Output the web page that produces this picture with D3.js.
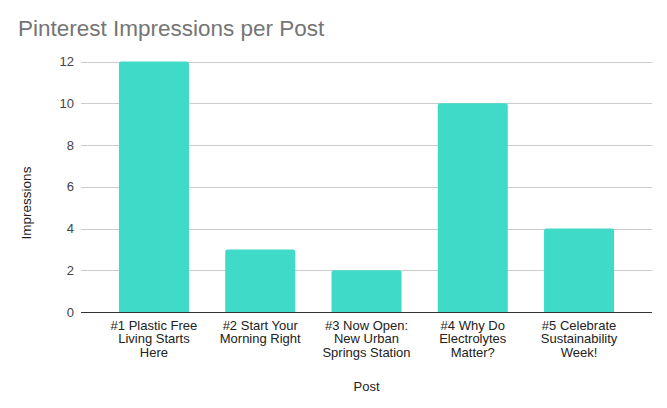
<!DOCTYPE html>
<html>
<head>
<meta charset="utf-8">
<script src="https://cdn.jsdelivr.net/npm/d3@7"></script>
<style>
  body { margin: 0; background: #fff; }
  svg { display: block; font-family: "Liberation Sans", Arial, sans-serif; }
</style>
</head>
<body>
<svg id="chart" width="667" height="408"></svg>
<script>
const title = "Pinterest Impressions per Post";
const categories = [
  "#1 Plastic Free\nLiving Starts\nHere",
  "#2 Start Your\nMorning Right",
  "#3 Now Open:\nNew Urban\nSprings Station",
  "#4 Why Do\nElectrolytes\nMatter?",
  "#5 Celebrate\nSustainability\nWeek!"
];
const impressions = [12, 3, 2, 10, 4];
const yTicks = [0, 2, 4, 6, 8, 10, 12];
const xTitle = "Post";
const yTitle = "Impressions";

const svg = d3.select("#chart");
const pLeft = 81, pRight = 652, pTop = 61.5, pBottom = 312;

const x = d3.scaleBand().domain(categories).range([pLeft, pRight])
  .paddingInner(0.341).paddingOuter(0.357);
const y = d3.scaleLinear().domain([0, 12]).range([pBottom, pTop]);

// title
svg.append("text").attr("x", 18).attr("y", 36)
  .attr("font-size", 22.5).attr("fill", "#757575").text(title);

// gridlines
svg.append("g").selectAll("line").data(yTicks.filter(d => d !== 0)).join("line")
  .attr("x1", pLeft).attr("x2", pRight)
  .attr("y1", d => Math.round(y(d)) + 0.5).attr("y2", d => Math.round(y(d)) + 0.5)
  .attr("stroke", "#cccccc").attr("stroke-width", 1);

// y axis labels
const yAxis = d3.axisLeft(y).tickValues(yTicks).tickSize(0).tickPadding(7);
const gy = svg.append("g").attr("transform", `translate(${pLeft},0)`).call(yAxis);
gy.select(".domain").remove();
gy.selectAll("text").attr("font-size", 13).attr("fill", "#444")
  .attr("font-family", "Liberation Sans, Arial, sans-serif");

// bars with rounded top corners
function barPath(x0, w, yTop, yBot, r) {
  r = Math.min(r, w / 2, (yBot - yTop));
  return `M${x0},${yBot}V${yTop + r}Q${x0},${yTop} ${x0 + r},${yTop}H${x0 + w - r}Q${x0 + w},${yTop} ${x0 + w},${yTop + r}V${yBot}Z`;
}
svg.append("g").selectAll("path").data(categories).join("path")
  .attr("d", (c, i) => barPath(x(c), x.bandwidth(), y(impressions[i]), y(0), 2.5))
  .attr("fill", "#40dac8");

// baseline
svg.append("line").attr("x1", pLeft).attr("x2", pRight)
  .attr("y1", Math.round(y(0)) + 0.5).attr("y2", Math.round(y(0)) + 0.5)
  .attr("stroke", "#333").attr("stroke-width", 1);

// x axis labels
const xAxis = d3.axisBottom(x).tickSize(0).tickFormat("");
const gx = svg.append("g").attr("transform", `translate(0,${pBottom})`).call(xAxis);
gx.select(".domain").remove();
svg.append("g").selectAll("text").data(categories).join("text")
  .attr("text-anchor", "middle")
  .attr("font-size", 13).attr("fill", "#222")
  .attr("x", c => x(c) + x.bandwidth() / 2)
  .attr("y", 330)
  .each(function(c) {
    const t = d3.select(this);
    c.split("\n").forEach((line, i) => {
      t.append("tspan").attr("x", x(c) + x.bandwidth() / 2)
        .attr("dy", i === 0 ? 0 : 13.3).text(line);
    });
  });

// axis titles
svg.append("text").attr("x", (pLeft + pRight) / 2).attr("y", 391)
  .attr("text-anchor", "middle").attr("font-size", 13).attr("fill", "#222").text(xTitle);
svg.append("text").attr("transform", `translate(31,203) rotate(-90)`)
  .attr("text-anchor", "middle").attr("font-size", 13.5).attr("fill", "#222").text(yTitle);
</script>
</body>
</html>
